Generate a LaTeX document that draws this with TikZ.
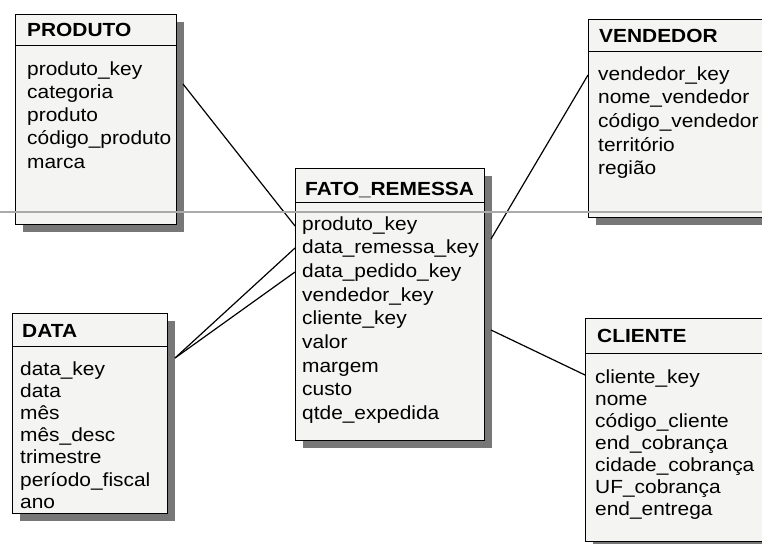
\documentclass[tikz,border=0pt]{standalone}
\usepackage{fontspec}
\setmainfont{Liberation Sans}[FakeStretch=1.1]
\usetikzlibrary{shadows}
\definecolor{boxfill}{HTML}{F4F4F2}
\definecolor{shadowgray}{HTML}{777777}
\definecolor{rulegray}{HTML}{AAAAAA}

\begin{document}
\begin{tikzpicture}[x=1pt,y=-1pt,
  tbl/.style={draw=black, line width=1.3pt, fill=boxfill, rectangle, inner sep=0pt,
    anchor=north west,
    drop shadow={shadow xshift=7pt, shadow yshift=-7pt, fill=shadowgray, opacity=1}},
  ttl/.style={anchor=base west, inner sep=0pt, font=\bfseries\fontsize{19}{23}\selectfont},
  fld/.style={anchor=base west, inner sep=0pt, font=\fontsize{19}{23}\selectfont},
  hdr/.style={line width=1pt},
  link/.style={line width=1.2pt},
]
\useasboundingbox (0,0) rectangle (762,543);
\clip (0,0) rectangle (762,543);

% ---------- dimension tables and fact table ----------
\node[tbl, minimum width=161pt, minimum height=210pt] (produto) at (15,14) {};
\draw[hdr] (15,46) -- (176,46);
\node[ttl] (produto-t) at (27,37) {PRODUTO};
\foreach \f [count=\i from 0] in {produto\_key, categoria, produto, código\_produto, marca}
  \node[fld] (produto-\i) at (27,75+23.3*\i) {\f};

\node[tbl, minimum width=189pt, minimum height=272pt] (fato) at (295,168) {};
\draw[hdr] (295,202) -- (484,202);
\node[ttl] (fato-t) at (305,195) {FATO\_REMESSA};
\foreach \f [count=\i from 0] in {produto\_key, data\_remessa\_key, data\_pedido\_key,
    vendedor\_key, cliente\_key, valor, margem, custo, qtde\_expedida}
  \node[fld] (fato-\i) at (302,230+23.7*\i) {\f};

\node[tbl, minimum width=200pt, minimum height=198pt] (vendedor) at (588,19) {};
\draw[hdr] (588,52) -- (788,52);
\node[ttl] (vendedor-t) at (599,43) {VENDEDOR};
\foreach \f [count=\i from 0] in {vendedor\_key, nome\_vendedor, código\_vendedor, território, região}
  \node[fld] (vendedor-\i) at (598,80+23.7*\i) {\f};

\node[tbl, minimum width=155pt, minimum height=200pt] (data) at (12,313) {};
\draw[hdr] (12,346) -- (167,346);
\node[ttl] (data-t) at (22,337) {DATA};
\foreach \f [count=\i from 0] in {data\_key, data, mês, mês\_desc, trimestre, período\_fiscal, ano}
  \node[fld] (data-\i) at (20,375+22.2*\i) {\f};

\node[tbl, minimum width=200pt, minimum height=223pt] (cliente) at (585,318) {};
\draw[hdr] (585,353) -- (785,353);
\node[ttl] (cliente-t) at (597,342) {CLIENTE};
\foreach \f [count=\i from 0] in {cliente\_key, nome, código\_cliente, end\_cobrança,
    cidade\_cobrança, UF\_cobrança, end\_entrega}
  \node[fld] (cliente-\i) at (595,383+22*\i) {\f};

% ---------- attachment points of the relationships ----------
\coordinate (produto-out) at (183,84);
\coordinate (data-out) at (175,358);
\coordinate (vendedor-in) at (588,75);
\coordinate (cliente-in) at (585,375);
\coordinate (fato-produto) at (295,226);
\coordinate (fato-remessa) at (295,248);
\coordinate (fato-pedido) at (295,272);
\coordinate (fato-vendedor) at (491,239);
\coordinate (fato-cliente) at (491,330);

\draw[link] (produto-out) -- (fato-produto);
\draw[link] (data-out) -- (fato-remessa);
\draw[link] (data-out) -- (fato-pedido);
\draw[link] (fato-vendedor) -- (vendedor-in);
\draw[link] (fato-cliente) -- (cliente-in);

% thin rule running across the sheet
\draw[rulegray, line width=1.2pt] (0,212) -- (762,212);
\end{tikzpicture}
\end{document}
